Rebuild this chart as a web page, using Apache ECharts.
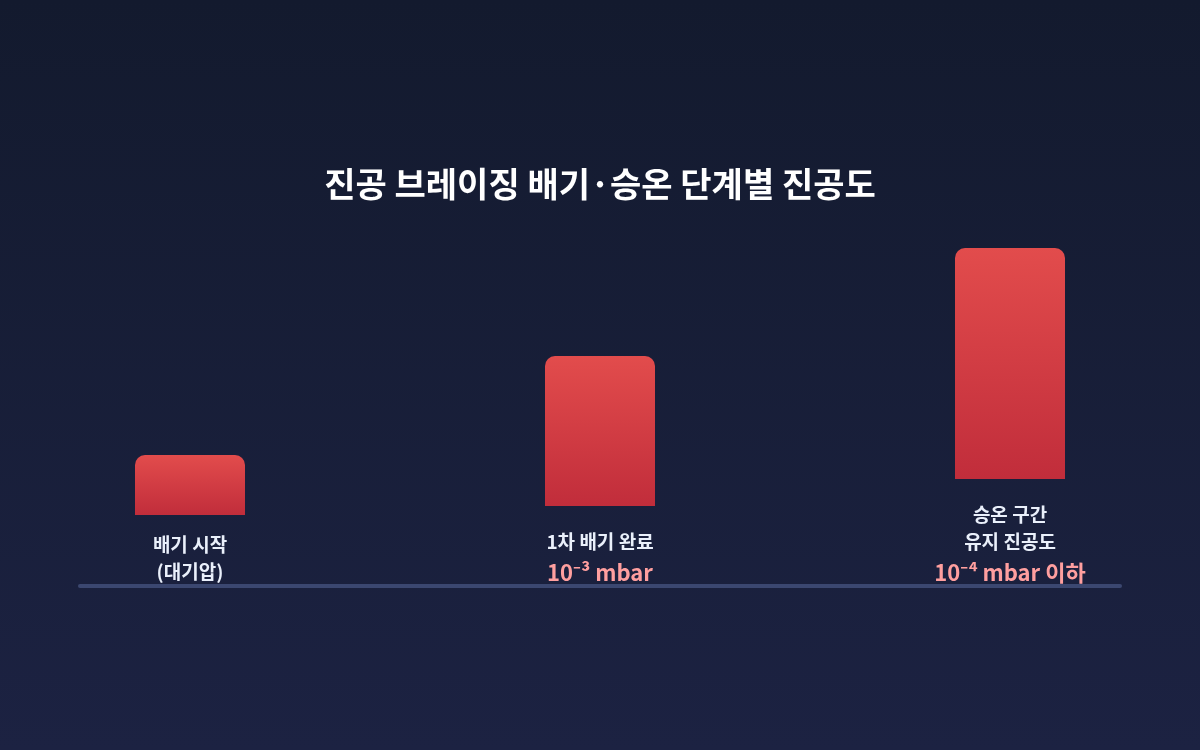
<!DOCTYPE html>
<html>
<head>
<meta charset="utf-8">
<script src="https://cdn.jsdelivr.net/npm/echarts@6/dist/echarts.min.js"></script>
<style>
  html, body { margin: 0; padding: 0; background: #161c33; }
  #main { width: 1200px; height: 750px; }
</style>
</head>
<body>
<div id="main"></div>
<script>
// 단계별 이름 (줄 단위)
const stageNames = [['배기 시작', '(대기압)'], ['1차 배기 완료'], ['승온 구간', '유지 진공도']];
// 진공도 표기
const pressureText = ['', '10⁻³ mbar', '10⁻⁴ mbar 이하'];
// 상대 진공도 (막대 높이)
const vacuumLevel = [20, 50, 77];

// 레이아웃
const PX_PER_UNIT = 3;
const LINE_H = 27;
const PRESSURE_H = 36;
const GAP = 16;

const categories = stageNames.map(n => n.join(' '));
// 라벨이 들어갈 막대 아래 빈 공간
const labelSpace = stageNames.map((n, i) =>
  (GAP + n.length * LINE_H + (pressureText[i] ? PRESSURE_H : 0)) / PX_PER_UNIT);

const font = "'Noto Sans CJK KR', 'Noto Sans', sans-serif";

const chart = echarts.init(document.getElementById('main'));
chart.setOption({
  backgroundColor: new echarts.graphic.LinearGradient(0, 0, 0, 1, [
    {offset: 0, color: '#131a2e'},
    {offset: 1, color: '#1c2242'}
  ]),
  animation: false,
  title: {
    text: '진공 브레이징 배기·승온 단계별 진공도',
    left: 'center',
    top: 162,
    textStyle: {color: '#ffffff', fontSize: 34, fontWeight: 'bold', fontFamily: font}
  },
  grid: [
    {left: 190, right: 190, top: 225, bottom: 165},
    {left: 80, right: 80, top: 225, bottom: 164}
  ],
  xAxis: [
    {type: 'category', data: categories, boundaryGap: false, show: false, gridIndex: 0},
    {
      type: 'value', gridIndex: 1, min: 0, max: 1,
      axisLine: {show: true, onZero: false, lineStyle: {color: '#3b4770', width: 4}},
      axisTick: {show: false}, axisLabel: {show: false}, splitLine: {show: false}
    }
  ],
  yAxis: [
    {type: 'value', min: 0, max: 120, show: false, gridIndex: 0},
    {type: 'value', min: 0, max: 1, show: false, gridIndex: 1}
  ],
  series: [
    {
      type: 'bar',
      stack: 'v',
      barWidth: 110,
      data: labelSpace,
      itemStyle: {color: 'transparent'},
      silent: true,
      label: {
        show: true,
        position: 'insideBottom',
        distance: 0,
        align: 'center',
        formatter: p => {
          const lines = stageNames[p.dataIndex].map(s => '{n|' + s + '}');
          if (pressureText[p.dataIndex]) lines.push('{p|' + pressureText[p.dataIndex] + '}');
          return lines.join('\n');
        },
        rich: {
          n: {color: '#eaf0fb', fontSize: 19, fontWeight: 'bold', lineHeight: LINE_H, fontFamily: font, align: 'center'},
          p: {color: '#ff9f9f', fontSize: 22, fontWeight: 'bold', lineHeight: 30, padding: [6, 0, 0, 0], fontFamily: font, align: 'center'}
        }
      }
    },
    {
      type: 'bar',
      stack: 'v',
      barWidth: 110,
      data: vacuumLevel,
      itemStyle: {
        borderRadius: [10, 10, 0, 0],
        color: new echarts.graphic.LinearGradient(0, 0, 0, 1, [
          {offset: 0, color: '#e24c4c'},
          {offset: 1, color: '#c12d3b'}
        ])
      }
    }
  ]
});
</script>
</body>
</html>
